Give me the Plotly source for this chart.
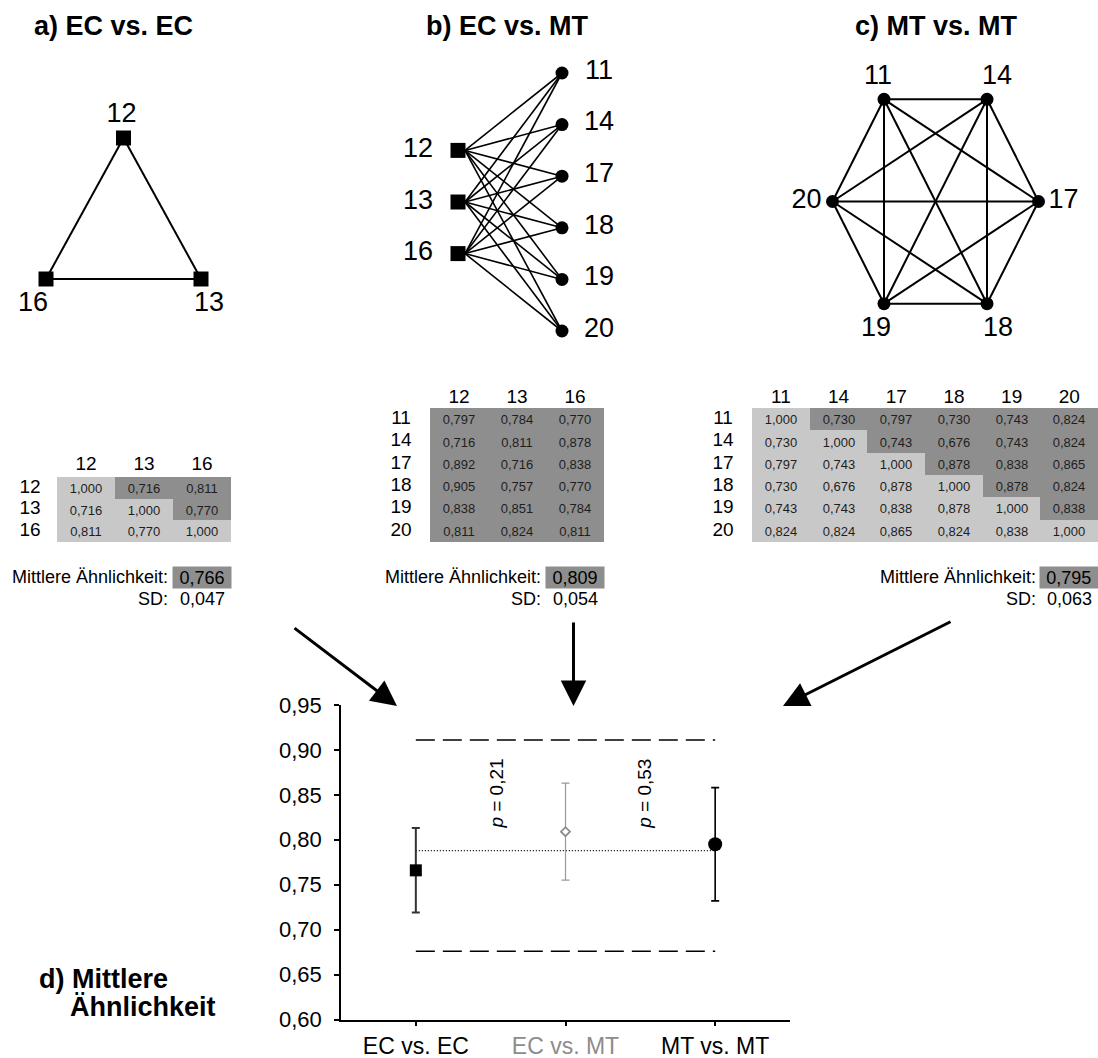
import numpy as np
import plotly.graph_objects as go

W, H = 1098, 1058
FONT = "Liberation Sans, Arial, sans-serif"
LIGHT = "#c8c8c8"
DARK = "#8e8e8e"
GREY = "#8c8c8c"

# ---------------- data ----------------
ec_nodes = ["12", "13", "16"]
mt_nodes = ["11", "14", "17", "18", "19", "20"]

sim_ec_ec = [
    [1.000, 0.716, 0.811],
    [0.716, 1.000, 0.770],
    [0.811, 0.770, 1.000],
]
sim_mt_ec = [
    [0.797, 0.784, 0.770],
    [0.716, 0.811, 0.878],
    [0.892, 0.716, 0.838],
    [0.905, 0.757, 0.770],
    [0.838, 0.851, 0.784],
    [0.811, 0.824, 0.811],
]
sim_mt_mt = [
    [1.000, 0.730, 0.797, 0.730, 0.743, 0.824],
    [0.730, 1.000, 0.743, 0.676, 0.743, 0.824],
    [0.797, 0.743, 1.000, 0.878, 0.838, 0.865],
    [0.730, 0.676, 0.878, 1.000, 0.878, 0.824],
    [0.743, 0.743, 0.838, 0.878, 1.000, 0.838],
    [0.824, 0.824, 0.865, 0.824, 0.838, 1.000],
]

groups = ["EC vs. EC", "EC vs. MT", "MT vs. MT"]
group_means = [0.766, 0.809, 0.795]
group_sds = [0.047, 0.054, 0.063]
p_labels = ["0,21", "0,53"]
mean_line = 0.788
band_upper = 0.911
band_lower = 0.676
y_tick_values = [0.60, 0.65, 0.70, 0.75, 0.80, 0.85, 0.90, 0.95]


def de(v, d=3):
    return f"{v:.{d}f}".replace(".", ",")


fig = go.Figure()
OV = dict(xaxis="x2", yaxis="y2", hoverinfo="skip", showlegend=False)


def add_edges(starts, ends, pairs, width):
    xs, ys = [], []
    for a, b in pairs:
        xs += [starts[a][0], ends[b][0], None]
        ys += [starts[a][1], ends[b][1], None]
    fig.add_trace(go.Scatter(x=xs, y=ys, mode="lines",
                             line=dict(color="black", width=width), **OV))


def add_nodes(pos, names, symbol, size):
    fig.add_trace(go.Scatter(x=[pos[n][0] for n in names], y=[pos[n][1] for n in names],
                             mode="markers", marker=dict(symbol=symbol, size=size, color="black"), **OV))


def add_labels(pos, names, offsets, size=27):
    fig.add_trace(go.Scatter(x=[pos[n][0] + offsets[n][0] for n in names],
                             y=[pos[n][1] + offsets[n][1] for n in names],
                             mode="text", text=names, textposition="middle center",
                             textfont=dict(family=FONT, size=size, color="black"), **OV))


# ---- a) EC vs. EC : triangle ----
tri_cx, tri_top, tri_base, tri_half = 123.5, 138, 279, 77.5
pos_a = {"12": (tri_cx, tri_top), "13": (tri_cx + tri_half, tri_base), "16": (tri_cx - tri_half, tri_base)}
pairs_a = [(ec_nodes[i], ec_nodes[j]) for i in range(3) for j in range(i + 1, 3)]
add_edges(pos_a, pos_a, pairs_a, 2)
add_nodes(pos_a, ec_nodes, "square", 15)
add_labels(pos_a, ec_nodes, {"12": (-2, -23), "13": (8, 25), "16": (-13, 25)})

# ---- b) EC vs. MT : bipartite ----
b_cy, b_step, b_left, b_right = 202, 51.6, 458, 562
pos_b_ec = {n: (b_left, b_cy + (i - 1) * b_step) for i, n in enumerate(ec_nodes)}
pos_b_mt = {n: (b_right, b_cy + (i - 2.5) * b_step) for i, n in enumerate(mt_nodes)}
starts_b = {n: (x + 7, y) for n, (x, y) in pos_b_ec.items()}
pairs_b = [(e, m) for e in ec_nodes for m in mt_nodes]
add_edges(starts_b, pos_b_mt, pairs_b, 1.6)
add_nodes(pos_b_ec, ec_nodes, "square", 15)
add_nodes(pos_b_mt, mt_nodes, "circle", 13)
add_labels(pos_b_ec, ec_nodes, {n: (-40, 0) for n in ec_nodes})
add_labels(pos_b_mt, mt_nodes, {n: (37, -1) for n in mt_nodes})

# ---- c) MT vs. MT : hexagon ----
hex_cx, hex_cy, hex_rx, hex_ry = 935.5, 201.5, 103, 118
hex_angles = [120, 60, 0, -60, -120, 180]
pos_c = {n: (hex_cx + hex_rx * np.cos(np.radians(a)), hex_cy - hex_ry * np.sin(np.radians(a)))
         for n, a in zip(mt_nodes, hex_angles)}
pairs_c = [(mt_nodes[i], mt_nodes[j]) for i in range(6) for j in range(i + 1, 6)]
add_edges(pos_c, pos_c, pairs_c, 2)
add_nodes(pos_c, mt_nodes, "circle", 13)
add_labels(pos_c, mt_nodes, {"11": (-6, -22), "14": (10, -22), "17": (25, 0),
                             "18": (11, 26), "19": (-8, 26), "20": (-26, 0)})

# ---- similarity tables ----
annotations = []


def add_table(matrix, row_names, col_names, left, top, cw, ch, shade, header_y, rowlab_x,
              mean_val, sd_val):
    nr, nc = len(row_names), len(col_names)
    fig.add_trace(go.Heatmap(
        z=shade, x0=left + cw / 2, dx=cw, y0=top + ch / 2, dy=ch,
        text=[[de(v) for v in row] for row in matrix], texttemplate="%{text}",
        textfont=dict(family=FONT, size=13, color="#1e1e1e"),
        colorscale=[[0, LIGHT], [1, DARK]], zmin=0, zmax=1, showscale=False, **OV))
    fig.add_trace(go.Scatter(x=[left + cw * (j + 0.5) for j in range(nc)], y=[header_y] * nc,
                             mode="text", text=col_names,
                             textfont=dict(family=FONT, size=19, color="black"), **OV))
    fig.add_trace(go.Scatter(x=[rowlab_x] * nr, y=[top + ch * (i + 0.5) for i in range(nr)],
                             mode="text", text=row_names,
                             textfont=dict(family=FONT, size=19, color="black"), **OV))
    box_left = left + (nc - 1) * cw
    common = dict(xref="x2", yref="y2", showarrow=False, font=dict(family=FONT, size=18, color="black"))
    annotations.append(dict(x=box_left - 3, y=577, text="Mittlere Ähnlichkeit:", xanchor="right", **common))
    annotations.append(dict(x=box_left + cw / 2, y=577, text=de(mean_val), bgcolor=DARK,
                            width=cw - 2, height=19, borderpad=1, **common))
    annotations.append(dict(x=box_left - 3, y=599, text="SD:", xanchor="right", **common))
    annotations.append(dict(x=box_left + cw / 2, y=599, text=de(sd_val), **common))


tri_shade_3 = [[1 if j > i else 0 for j in range(3)] for i in range(3)]
tri_shade_6 = [[1 if j > i else 0 for j in range(6)] for i in range(6)]
full_shade = [[1] * 3 for _ in range(6)]

add_table(sim_ec_ec, ec_nodes, ec_nodes, 57, 477, 58, 21.7, tri_shade_3, 465, 30,
          group_means[0], group_sds[0])
add_table(sim_mt_ec, mt_nodes, ec_nodes, 430, 408, 58, 22.33, full_shade, 398.5, 401,
          group_means[1], group_sds[1])
add_table(sim_mt_mt, mt_nodes, mt_nodes, 752, 408, 57.7, 22.33, tri_shade_6, 398.5, 723,
          group_means[2], group_sds[2])

# ---- panel titles ----
title_font = dict(family=FONT, size=27, color="black", weight="bold")
for txt, x in [("a) EC vs. EC", 113.5), ("b) EC vs. MT", 507), ("c) MT vs. MT", 936.5)]:
    annotations.append(dict(x=x, y=26, xref="x2", yref="y2", text=txt, showarrow=False, font=title_font))
annotations.append(dict(x=37, y=979, xref="x2", yref="y2", text="d) Mittlere", xanchor="left",
                        showarrow=False, font=title_font))
annotations.append(dict(x=68, y=1007, xref="x2", yref="y2", text="Ähnlichkeit", xanchor="left",
                        showarrow=False, font=title_font))

# ---- arrows into panel d ----
for (tx, ty), (hx, hy) in [((293, 627), (397, 706)), ((573.5, 621), (573.5, 706)), ((952, 621), (783, 706))]:
    annotations.append(dict(x=hx, y=hy, ax=tx, ay=ty, xref="x2", yref="y2", axref="x2", ayref="y2",
                            text="", showarrow=True, arrowhead=2, arrowsize=1.7, arrowwidth=3,
                            arrowcolor="black", standoff=0))

# ---- d) mean similarity with SD ----
for yv, dash in [(band_upper, "19px,8px"), (band_lower, "19px,8px"), (mean_line, "1px,2px")]:
    fig.add_trace(go.Scatter(x=[groups[0], groups[-1]], y=[yv, yv], mode="lines",
                             line=dict(color="black", width=1.5 if dash != "1px,2px" else 1.2, dash=dash),
                             hoverinfo="skip", showlegend=False))

marker_styles = [
    dict(symbol="square", size=12, color="black"),
    dict(symbol="diamond", size=7, color="white", line=dict(color=GREY, width=1.8)),
    dict(symbol="circle", size=14, color="black"),
]
bar_styles = [
    dict(color="#333333", thickness=2, width=4),
    dict(color="#999999", thickness=1.2, width=4),
    dict(color="black", thickness=1.6, width=4),
]
for g, m, s, ms, bs in zip(groups, group_means, group_sds, marker_styles, bar_styles):
    fig.add_trace(go.Scatter(x=[g], y=[m], mode="markers", marker=ms,
                             error_y=dict(type="data", array=[s], visible=True, **bs),
                             hoverinfo="skip", showlegend=False))

for xpos, lab in zip([0.54, 1.53], p_labels):
    annotations.append(dict(x=xpos, y=0.851, xref="x", yref="y", text=f"<i>p</i> = {lab}",
                            textangle=-90, showarrow=False, font=dict(family=FONT, size=19, color="black")))

tick_text = [groups[0], f'<span style="color:{GREY}">{groups[1]}</span>', groups[2]]

fig.update_layout(
    template="none",
    width=W, height=H, margin=dict(l=0, r=0, t=0, b=0, pad=0, autoexpand=False),
    paper_bgcolor="white", plot_bgcolor="rgba(0,0,0,0)",
    font=dict(family=FONT, color="black"),
    annotations=annotations,
    xaxis=dict(domain=[341 / W, 790 / W], range=[-0.5, 2.5], type="category",
               categoryorder="array", categoryarray=groups, automargin=False,
               tickvals=groups, ticktext=tick_text, tickfont=dict(size=23),
               showline=True, linecolor="black", linewidth=1.5, ticks="outside", ticklen=5,
               tickwidth=1.5, tickcolor="black", showgrid=False, zeroline=False, anchor="y"),
    yaxis=dict(domain=[(H - 1019.5) / H, (H - 705) / H], range=[0.6, 0.95], automargin=False,
               tickvals=y_tick_values, ticktext=[de(v, 2) for v in y_tick_values],
               tickfont=dict(size=22), ticklabelstandoff=8,
               showline=True, linecolor="black", linewidth=1.5, ticks="outside", ticklen=5,
               tickwidth=1.5, tickcolor="black", showgrid=False, zeroline=False, anchor="x"),
    xaxis2=dict(domain=[0, 1], range=[0, W], visible=False, anchor="y2", fixedrange=True, automargin=False),
    yaxis2=dict(domain=[0, 1], range=[H, 0], visible=False, anchor="x2", fixedrange=True, automargin=False),
)

fig.write_html("out.html")
